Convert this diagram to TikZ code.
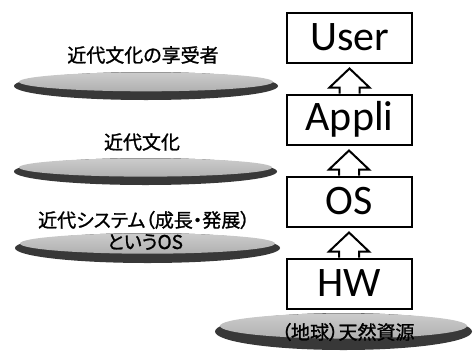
\documentclass[tikz,border=0pt]{standalone}
\usepackage{fontspec}
\newfontfamily\jpfont[RawFeature=+palt,FakeBold=1.2]{Noto Sans CJK JP}
\newfontfamily\calfont{Carlito}
\usetikzlibrary{calc}
\newcommand\mydisk[5]{%
  \fill[black!78] (#2,#3) ellipse [x radius=#4, y radius=#5];
  \shade[top color=gray!40, bottom color=gray!62] (#2,#3-0.3*#5) ellipse [x radius=#4-5, y radius=0.68*#5];
  \coordinate (#1) at (#2,#3);
}
\begin{document}
\begin{tikzpicture}[x=1pt,y=-1pt,
  box/.style={draw, line width=2pt, minimum width=125pt, minimum height=50pt, inner sep=0pt, font=\calfont\fontsize{42}{42}\selectfont},
  jt/.style={inner sep=0pt, font=\jpfont\fontsize{19}{19}\selectfont},
  blockarr/.style={draw, line width=2pt, fill=white, line join=miter}]
\useasboundingbox (0,0) rectangle (473,351);
\fill[white] (0,0) rectangle (473,351);
% disks
\mydisk{d1}{146}{86}{132}{14}
\mydisk{d2}{145.5}{171.5}{131.5}{13.5}
\mydisk{d3}{147.5}{248}{132.5}{15}
\mydisk{d4}{343.5}{331.5}{128.5}{18.5}
% labels
\node[jt] (t1) at (143,55) {近代文化の享受者};
\node[jt] (t2) at (142,142) {近代文化};
\node[jt] (t3) at (144,220) {近代システム（成長・発展）};
\node[jt] (t4) at (145,242) {というOS};
\node[jt] (t5) at (348,332) {（地球）天然資源};
% boxes
\node[box] (user) at (349.5,37.5) {User};
\node[box] (appli) at (349.5,119.5) {Appli};
\node[box] (os) at (349,201.5) {OS};
\node[box] (hw) at (349,283.5) {HW};
% block arrows
\foreach \lo/\up in {appli/user, os/appli, hw/os}{
  \draw[blockarr] let \p1=(\lo.north), \p2=(\up.south) in
    (\x1-10pt,\y1) -- (\x1-10pt,\y2-24pt) -- (\x1-20pt,\y2-24pt) -- (\x1,\y2-5pt)
    -- (\x1+20pt,\y2-24pt) -- (\x1+10pt,\y2-24pt) -- (\x1+10pt,\y1);
}
\end{tikzpicture}
\end{document}
